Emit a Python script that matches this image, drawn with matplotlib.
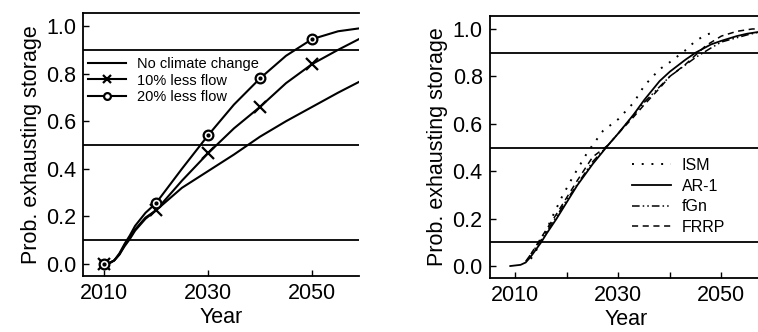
"""
Probability of exhausting storage under climate change (left)
and for different streamflow generators (right).
"""

import matplotlib
matplotlib.use("Agg")
from matplotlib import pyplot as plt

plt.rcParams["font.family"] = ["Liberation Sans", "DejaVu Sans"]

# Left panel: climate change scenarios
years_left = [2010, 2011, 2012, 2013, 2014, 2015, 2016, 2018, 2020, 2025,
              2030, 2035, 2040, 2045, 2050, 2055, 2059]
no_change = [0.0, 0.003, 0.015, 0.04, 0.075, 0.105, 0.14, 0.19, 0.225, 0.32,
             0.39, 0.46, 0.535, 0.60, 0.66, 0.72, 0.765]
less_10 = [0.0, 0.003, 0.015, 0.04, 0.08, 0.11, 0.145, 0.195, 0.225, 0.35,
           0.465, 0.57, 0.66, 0.76, 0.84, 0.90, 0.945]
less_20 = [0.0, 0.003, 0.015, 0.045, 0.085, 0.12, 0.16, 0.215, 0.255, 0.40,
           0.54, 0.67, 0.78, 0.875, 0.945, 0.978, 0.99]
marker_idx = [0, 8, 10, 12, 14]  # 2010, 2020, 2030, 2040, 2050

# Right panel: streamflow generators
ar1_years = [2009, 2011, 2012, 2013, 2014, 2015, 2016, 2018, 2020, 2022, 2025,
             2028, 2030, 2033, 2035, 2038, 2040, 2043, 2045, 2048, 2050, 2053,
             2055, 2058]
ar1 = [0.0, 0.005, 0.015, 0.04, 0.07, 0.10, 0.135, 0.20, 0.27, 0.34, 0.43,
       0.51, 0.56, 0.64, 0.70, 0.78, 0.82, 0.87, 0.90, 0.935, 0.95, 0.97,
       0.98, 0.99]
ism_years = [2013, 2014, 2015, 2017, 2019, 2021, 2024, 2027, 2030, 2033, 2035,
             2038, 2040, 2043, 2045, 2047, 2049]
ism = [0.03, 0.065, 0.10, 0.20, 0.29, 0.37, 0.48, 0.57, 0.62, 0.69, 0.76,
       0.83, 0.86, 0.91, 0.95, 0.975, 0.99]
fgn_years = [2012, 2014, 2015, 2018, 2020, 2025, 2028, 2030, 2035, 2040,
             2045, 2048, 2050, 2055, 2058]
fgn = [0.02, 0.08, 0.11, 0.21, 0.28, 0.44, 0.51, 0.56, 0.69, 0.80, 0.88,
       0.92, 0.945, 0.975, 0.99]
frrp_years = [2013, 2015, 2018, 2020, 2022, 2025, 2028, 2030, 2033, 2035,
              2038, 2040, 2043, 2045, 2047, 2050, 2053, 2056, 2058]
frrp = [0.05, 0.12, 0.22, 0.29, 0.36, 0.46, 0.51, 0.56, 0.63, 0.68, 0.75,
        0.80, 0.85, 0.89, 0.93, 0.97, 0.99, 1.0, 1.0]

thresholds = [0.1, 0.5, 0.9]
x_ticks = [2010, 2030, 2050]
y_ticks = [0.0, 0.2, 0.4, 0.6, 0.8, 1.0]

fig = plt.figure(figsize=(7.58, 3.32), dpi=100)
ax1 = fig.add_axes([0.1095, 0.169, 0.364, 0.792])
ax2 = fig.add_axes([0.646, 0.163, 0.36, 0.789])

# Left panel
ax1.plot(years_left, no_change, color="black", lw=1.5, label="No climate change")
ax1.plot(years_left, less_10, color="black", lw=1.5, marker="x", ms=9,
         mew=1.6, markevery=marker_idx, label="10% less flow")
ax1.plot(years_left, less_20, color="black", lw=1.5, marker="o", ms=7,
         mfc="white", mew=1.6, markevery=marker_idx, label="20% less flow")
# centre dots of the circle markers
ax1.plot(years_left, less_20, color="black", ls="none", marker="o", ms=2,
         markevery=marker_idx)
ax1.set_xlim(2006, 2059)

# Right panel
ax2.plot(ism_years, ism, color="black", lw=1.4, ls=(0, (1, 4)), label="ISM")
ax2.plot(ar1_years, ar1, color="black", lw=1.3, label="AR-1")
ax2.plot(fgn_years, fgn, color="black", lw=1.1, ls=(0, (5, 2, 1, 2, 1, 2)),
         label="fGn")
ax2.plot(frrp_years, frrp, color="black", lw=1.1, ls=(0, (4, 3)), label="FRRP")
ax2.set_xlim(2005, 2058)

for ax in (ax1, ax2):
    for t in thresholds:
        ax.axhline(t, color="black", lw=1.3)
    ax.set_ylim(-0.05, 1.055)
    ax.set_xticks(x_ticks)
    ax.set_yticks(y_ticks)
    ax.set_yticklabels([f"{v:.1f}" for v in y_ticks])
    ax.tick_params(labelsize=15.5, direction="in", length=4, width=1.0, pad=5)
    ax.set_xlabel("Year", fontsize=15.5, labelpad=2)
    ax.set_ylabel("Prob. exhausting storage", fontsize=15.5, labelpad=3)
    ax.spines["right"].set_visible(False)
    for s in ("left", "bottom", "top"):
        ax.spines[s].set_linewidth(1.3)

ax2.set_xticks([2020, 2040], minor=True)
ax2.tick_params(which="minor", direction="in", length=4, width=1.0)

ax1.legend(loc="upper left", bbox_to_anchor=(-0.02, 0.87), frameon=False,
           fontsize=10.5, handlelength=2.6, labelspacing=0.15, borderpad=0.2,
           handletextpad=0.8, markerscale=0.7)
ax2.legend(loc="lower left", bbox_to_anchor=(0.47, 0.11), frameon=False,
           fontsize=11.5, handlelength=2.4, labelspacing=0.35,
           handletextpad=0.7)

fig.savefig("out.png", dpi=100)
